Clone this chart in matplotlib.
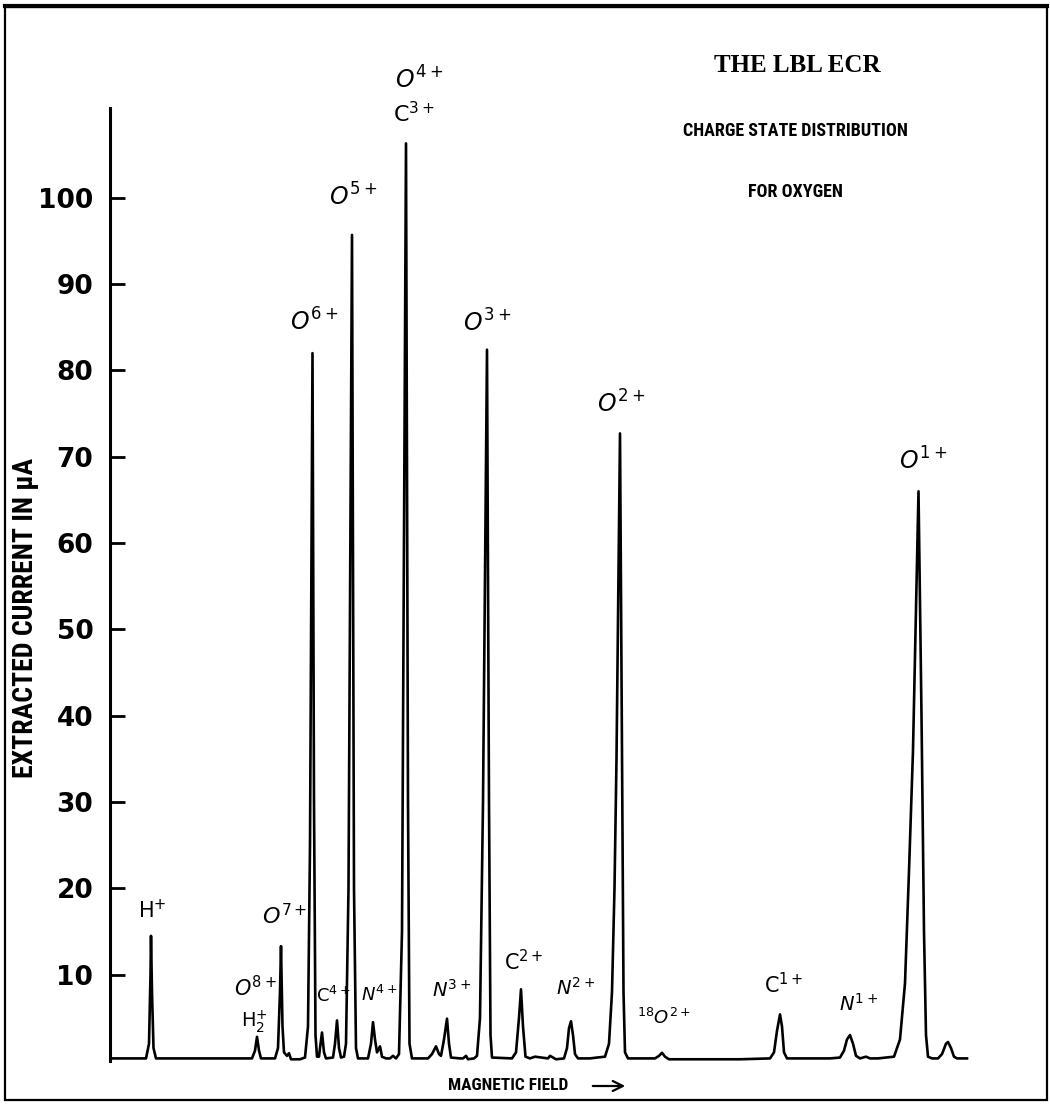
import matplotlib
matplotlib.use("Agg")
import matplotlib.pyplot as plt
from matplotlib.patches import Rectangle, FancyArrowPatch
from matplotlib import font_manager as fm

# ---- data (magnetic field in arbitrary units, current in uA) ----
field = [0.0, 3.6, 3.9, 4.05, 4.1, 4.2, 4.35, 4.6,
         14.2, 14.5, 14.7, 14.9, 15.1,
         16.5, 16.8, 17.0, 17.1, 17.25, 17.4, 17.7, 17.9, 18.1, 19.0,
         19.5, 19.8, 20.0, 20.25, 20.4, 20.55, 20.7, 20.9,
         21.0, 21.2, 21.4, 21.6, 22.3, 22.5, 22.7, 22.9, 23.1, 23.4,
         23.6, 23.85, 24.2, 24.4, 24.6, 24.8,
         25.8, 26.1, 26.3, 26.5, 26.7, 27.0, 27.2, 27.6, 28.0, 28.3, 28.6,
         28.9, 29.2, 29.6, 29.8, 29.95, 30.2,
         31.8, 32.2, 32.6, 32.9, 33.1, 33.4, 33.7, 33.9, 34.1, 35.0, 35.3, 35.6, 35.8, 36.4,
         36.7, 37.0, 37.3, 37.7, 37.9, 38.05, 38.2,
         40.2, 40.6, 40.9, 41.1, 41.3, 41.55, 42.0, 42.5, 43.8, 44.0, 44.6,
         45.4, 45.7, 45.9, 46.1, 46.3, 46.5, 46.8, 48.0, 48.7,
         49.5, 49.9, 50.2, 50.45, 50.65, 51.0, 51.2, 51.35, 51.5, 51.8,
         54.5, 54.9, 55.2, 55.5, 55.9, 59.0, 63.0,
         66.0, 66.4, 66.7, 67.0, 67.2, 67.4, 67.7,
         72.0, 73.0, 73.4, 73.7, 74.0, 74.3, 74.6, 75.0, 75.6, 76.0, 76.8,
         78.4, 79.0, 79.5, 79.9, 80.3, 80.85, 81.15, 81.4, 81.6, 81.8, 82.2,
         82.8, 83.2, 83.6, 83.8, 84.1, 84.4, 84.7, 85.7]
current = [0.3, 0.3, 2.0, 10.0, 14.5, 8.0, 1.5, 0.3,
           0.3, 1.2, 2.8, 1.2, 0.3,
           0.3, 1.5, 8.0, 13.3, 4.0, 1.0, 0.6, 0.9, 0.2, 0.2,
           0.4, 4.0, 25.0, 82.0, 30.0, 3.0, 0.5, 0.5,
           1.5, 3.3, 1.0, 0.3, 0.4, 2.0, 4.7, 1.5, 0.4, 0.5,
           2.0, 20.0, 95.7, 20.0, 1.5, 0.3,
           0.3, 2.0, 4.5, 2.5, 1.0, 1.7, 0.5, 0.3, 0.3, 0.6, 0.3,
           0.8, 15.0, 106.3, 30.0, 2.0, 0.3,
           0.3, 0.8, 1.7, 0.8, 0.6, 2.5, 4.9, 2.0, 0.4, 0.3, 0.3, 0.6, 0.2, 0.3,
           0.6, 5.0, 30.0, 82.4, 30.0, 3.0, 0.4,
           0.3, 1.0, 5.0, 8.3, 4.0, 0.5, 0.3, 0.5, 0.3, 0.6, 0.2,
           0.3, 1.5, 3.8, 4.6, 3.0, 0.8, 0.3, 0.3, 0.4,
           0.5, 2.0, 8.0, 20.0, 35.0, 72.7, 35.0, 8.0, 1.0, 0.3,
           0.3, 0.6, 0.95, 0.5, 0.2, 0.2, 0.2,
           0.3, 1.0, 3.5, 5.4, 4.0, 1.0, 0.3,
           0.3, 0.4, 1.2, 2.5, 3.0, 2.0, 0.6, 0.3, 0.5, 0.3, 0.3,
           0.5, 2.5, 9.0, 22.0, 36.0, 66.0, 40.0, 15.0, 3.0, 0.5, 0.3,
           0.3, 0.8, 2.0, 2.2, 1.5, 0.5, 0.3, 0.3]

# peak labels: text, field, current
peak_labels = [r'$\mathrm{H}^{+}$', r'$O^{8+}$', r'$\mathrm{H}_{2}^{+}$', r'$O^{7+}$',
               r'$O^{6+}$', r'$\mathrm{C}^{4+}$', r'$O^{5+}$', r'$N^{4+}$',
               r'$O^{4+}$', r'$\mathrm{C}^{3+}$', r'$N^{3+}$', r'$O^{3+}$',
               r'$\mathrm{C}^{2+}$', r'$N^{2+}$', r'$O^{2+}$', r'$^{18}O^{2+}$',
               r'$\mathrm{C}^{1+}$', r'$N^{1+}$', r'$O^{1+}$']
label_x = [4.2, 14.5, 14.4, 17.5, 20.4, 22.3, 24.3, 26.9, 30.9, 30.4,
           34.2, 37.7, 41.4, 46.6, 51.1, 55.4, 67.4, 74.9, 81.3]
label_y = [17.4, 8.5, 4.6, 16.9, 85.6, 7.5, 100.1, 7.6, 113.6, 109.8,
           8.3, 85.5, 11.5, 8.5, 76.1, 5.0, 8.8, 6.6, 69.5]
label_size = [15, 15, 14, 16, 17, 13, 17, 13, 17, 16,
              14, 17, 15, 14, 17, 13, 15, 14, 17]

yticks = [10, 20, 30, 40, 50, 60, 70, 80, 90, 100]


def narrow_family():
    names = {f.name for f in fm.fontManager.ttflist}
    for n in ['Liberation Sans Narrow', 'Roboto Condensed', 'Open Sans Condensed',
              'DejaVu Sans Condensed']:
        if n in names:
            return [n, 'DejaVu Sans']
    return ['DejaVu Sans']


W, H = 1050, 1105
plt.rcParams['mathtext.fontset'] = 'dejavusans'
fig = plt.figure(figsize=(W / 100, H / 100), dpi=100)
ax = fig.add_axes([110 / W, 44 / H, 890 / W, 953 / H])

ax.plot(field, current, color='black', lw=1.9, solid_joinstyle='round')
ax.set_xlim(0, 89)
ax.set_ylim(0, 110.4)

for s in ['top', 'right', 'bottom']:
    ax.spines[s].set_visible(False)
ax.spines['left'].set_linewidth(2.2)
ax.set_xticks([])
ax.set_yticks(yticks)
ax.set_yticklabels([str(t) for t in yticks], fontsize=19, fontweight='bold',
                   family='DejaVu Sans')
ax.tick_params(axis='y', direction='in', length=11, width=2, pad=12)

for t, x, y, fs in zip(peak_labels, label_x, label_y, label_size):
    ax.text(x, y, t, fontsize=fs, ha='center', va='center', clip_on=False)

narrow = narrow_family()
fig.text(26 / W, 1 - 618 / H, 'EXTRACTED CURRENT IN \u03bcA', rotation=90,
         ha='center', va='center', fontsize=20, fontweight='bold',
         family=narrow, fontstretch='condensed')
fig.text(797 / W, 1 - 66 / H, 'THE LBL ECR', ha='center', va='center',
         fontsize=18, fontweight='bold', family='Liberation Serif')
fig.text(795 / W, 1 - 131 / H, 'CHARGE STATE DISTRIBUTION', ha='center',
         va='center', fontsize=13, fontweight='bold', family=narrow,
         fontstretch='condensed')
fig.text(795 / W, 1 - 192 / H, 'FOR OXYGEN', ha='center', va='center',
         fontsize=13, fontweight='bold', family=narrow, fontstretch='condensed')
fig.text(508 / W, 1 - 1086 / H, 'MAGNETIC FIELD', ha='center', va='center',
         fontsize=12.5, fontweight='bold', family=narrow, fontstretch='condensed')
fig.add_artist(FancyArrowPatch(
    (590 / W, 1 - 1086 / H), (628 / W, 1 - 1086 / H),
    transform=fig.transFigure, arrowstyle='->', mutation_scale=18,
    lw=1.6, color='black'))

# frame around the whole sheet
fig.add_artist(Rectangle((5 / W, 5 / H), 1042 / W, 1093 / H,
                         transform=fig.transFigure, fill=False,
                         lw=1.6, edgecolor='black'))
fig.add_artist(plt.Line2D([5 / W, 1047 / W], [1 - 6 / H, 1 - 6 / H],
                          transform=fig.transFigure, lw=3, color='black'))

fig.savefig('out.png', dpi=100)
